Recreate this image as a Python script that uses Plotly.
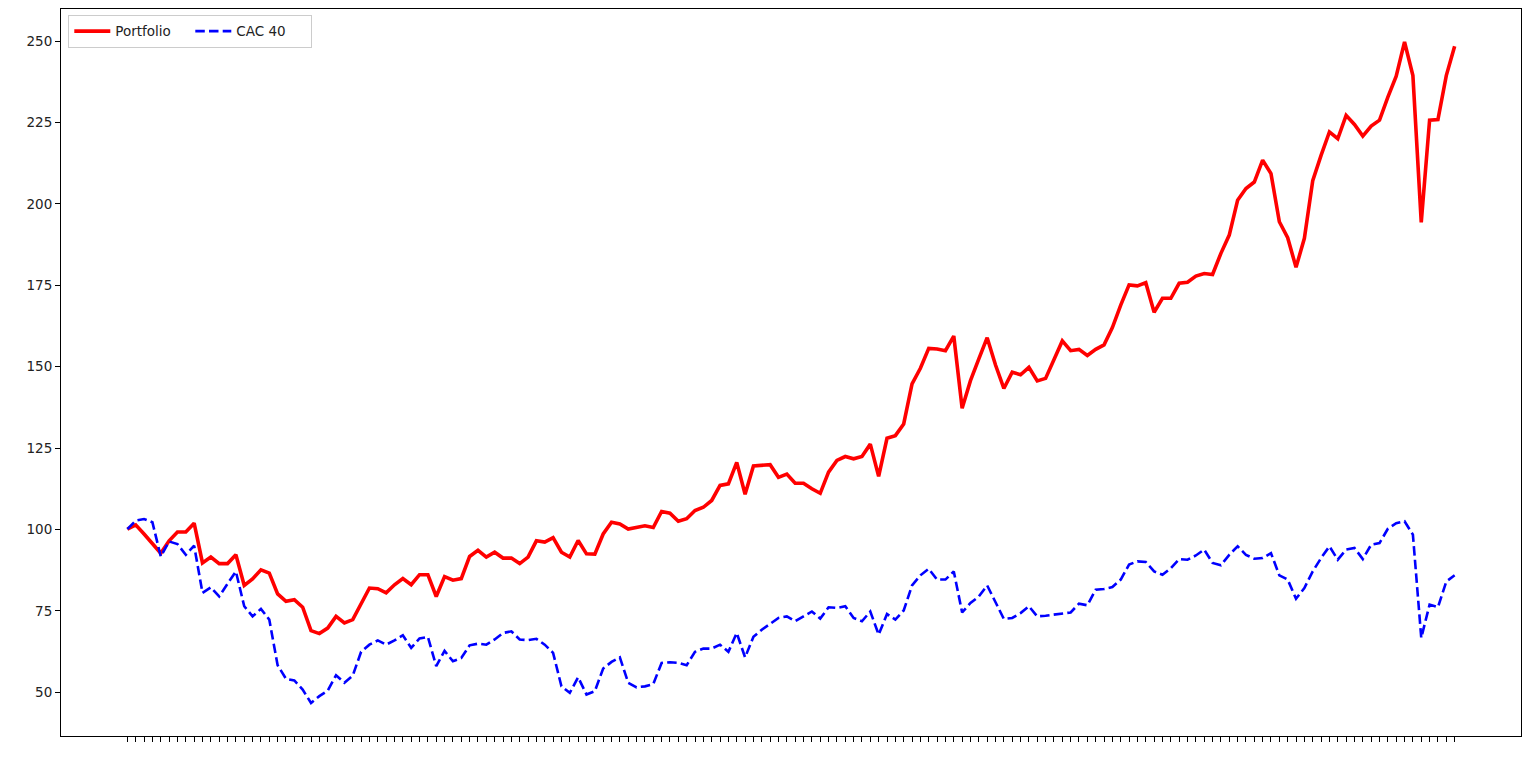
import plotly.graph_objects as go

portfolio = [
    100.1, 101.4, 98.6, 95.8, 92.7, 96.5, 99.2, 99.2, 101.9, 89.7,
    91.5, 89.5, 89.5, 92.2, 82.8, 84.8, 87.6, 86.6, 80.2, 77.9,
    78.4, 76.1, 68.9, 68.0, 69.7, 73.3, 71.3, 72.3, 77.4, 82.0,
    81.8, 80.5, 83.0, 84.9, 83.0, 86.1, 86.1, 79.4, 85.5, 84.4,
    84.9, 91.7, 93.6, 91.5, 93.0, 91.2, 91.2, 89.5, 91.5, 96.5,
    96.1, 97.5, 93.0, 91.5, 96.6, 92.5, 92.4, 98.6, 102.2, 101.7,
    100.1, 100.7, 101.1, 100.6, 105.5, 105.0, 102.5, 103.3, 105.8, 106.8,
    108.9, 113.5, 114.0, 120.6, 110.8, 119.5, 119.8, 119.9, 116.0, 117.0,
    114.2, 114.2, 112.5, 111.1, 117.6, 121.2, 122.4, 121.7, 122.4, 126.2,
    116.3, 128.0, 128.8, 132.4, 144.7, 149.5, 155.6, 155.4, 154.9, 159.4,
    137.2, 145.7, 152.4, 158.9, 150.5, 143.3, 148.3, 147.5, 149.8, 145.6,
    146.4, 152.2, 157.9, 154.9, 155.3, 153.4, 155.3, 156.7, 162.0, 168.9,
    175.1, 174.8, 175.8, 166.7, 171.0, 171.0, 175.6, 175.9, 177.8, 178.6,
    178.3, 184.8, 190.4, 201.1, 204.7, 206.7, 213.4, 209.3, 194.5, 189.6,
    180.5, 189.4, 207.1, 214.9, 222.1, 220.0, 227.2, 224.4, 220.8, 223.9,
    225.7, 232.8, 239.2, 249.7, 239.4, 194.3, 225.7, 225.9, 239.4, 248.4,
]

cac40 = [
    100.1, 102.7, 103.2, 102.2, 91.7, 96.3, 95.5, 92.2, 95.0, 80.5,
    82.2, 79.4, 83.3, 87.1, 76.4, 73.3, 75.6, 72.3, 58.3, 54.1,
    53.6, 50.8, 46.7, 48.8, 50.5, 55.2, 52.9, 55.1, 62.4, 64.6,
    65.9, 64.6, 65.9, 67.5, 63.6, 66.5, 67.0, 58.0, 62.7, 59.5,
    60.5, 64.4, 64.9, 64.6, 66.2, 68.2, 68.7, 66.2, 66.0, 66.4,
    64.6, 62.1, 51.8, 49.8, 54.6, 49.3, 50.3, 57.3, 59.3, 60.7,
    52.9, 51.5, 51.8, 52.5, 59.0, 59.2, 59.0, 58.3, 62.4, 63.4,
    63.4, 64.6, 62.4, 68.2, 60.7, 67.0, 69.2, 70.9, 72.8, 73.3,
    71.8, 73.3, 74.8, 72.6, 76.1, 75.9, 76.4, 72.8, 71.8, 74.8,
    67.7, 74.0, 72.3, 75.1, 82.8, 85.9, 87.9, 84.6, 84.6, 87.1,
    74.5, 77.4, 79.4, 82.8, 77.7, 72.5, 72.8, 74.3, 76.4, 73.3,
    73.5, 73.8, 74.1, 74.5, 77.2, 76.7, 81.5, 81.7, 82.3, 84.6,
    89.2, 90.2, 90.0, 87.1, 86.1, 88.1, 90.9, 90.7, 92.0, 93.8,
    89.7, 89.0, 92.2, 94.8, 92.2, 91.0, 91.2, 92.7, 85.9, 84.6,
    78.7, 82.0, 87.1, 91.2, 94.8, 90.7, 93.8, 94.3, 90.9, 95.3,
    95.8, 100.2, 101.9, 102.5, 98.4, 66.7, 76.9, 76.1, 84.0, 85.9,
]

y_ticks = [50, 75, 100, 125, 150, 175, 200, 225, 250]

x = list(range(len(portfolio)))
n = len(x) - 1
xpad = 0.05 * n
ymin = min(min(portfolio), min(cac40))
ymax = max(max(portfolio), max(cac40))
ypad = 0.05 * (ymax - ymin)

fig = go.Figure()
fig.add_trace(go.Scatter(
    x=x, y=portfolio, mode="lines", name="Portfolio",
    line=dict(color="#ff0000", width=3.6),
))
fig.add_trace(go.Scatter(
    x=x, y=cac40, mode="lines", name="CAC 40",
    line=dict(color="#0000ff", width=2.6, dash="9.5px,4.2px"),
))

fig.update_layout(
    width=1520, height=752,
    margin=dict(l=53, r=7, t=1, b=24),
    paper_bgcolor="white", plot_bgcolor="white",
    font=dict(family="DejaVu Sans", size=13.5, color="#222222"),
    showlegend=True,
    legend=dict(
        orientation="h", x=0.005, y=0.992, xanchor="left", yanchor="top",
        bgcolor="rgba(255,255,255,0.8)", bordercolor="#cccccc", borderwidth=1,
        font=dict(family="DejaVu Sans", size=13.5, color="#222222"),
        itemwidth=36, entrywidth=70, entrywidthmode="pixels",
    ),
    xaxis=dict(
        range=[-xpad, n + xpad], tickmode="array", tickvals=x,
        ticktext=[""] * len(x), ticks="outside", ticklen=5, tickwidth=1,
        tickcolor="black", showgrid=False, zeroline=False,
        showline=True, linecolor="black", linewidth=1, mirror=True,
    ),
    yaxis=dict(
        range=[ymin - ypad, ymax + ypad], tickmode="array", tickvals=y_ticks,
        ticktext=[str(v) for v in y_ticks], ticks="outside", ticklen=5,
        tickwidth=1, tickcolor="black", showgrid=False, zeroline=False,
        showline=True, linecolor="black", linewidth=1, mirror=True,
    ),
)

fig.write_html("out.html")
